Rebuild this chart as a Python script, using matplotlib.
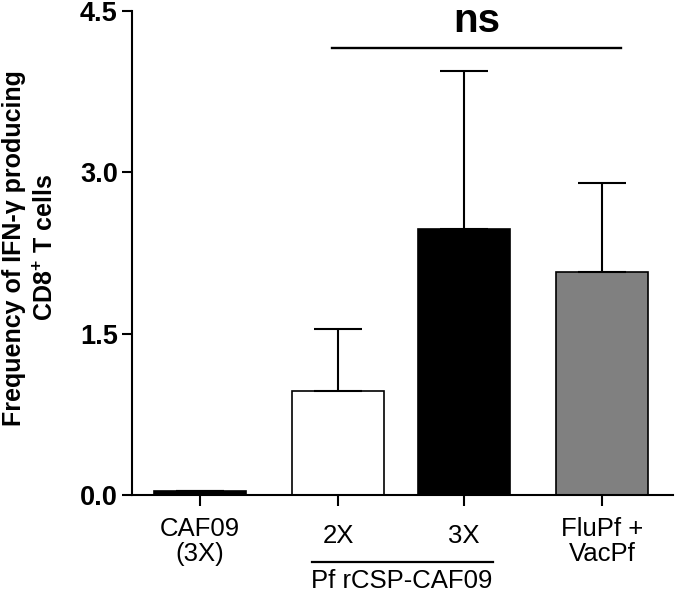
import matplotlib
matplotlib.use("Agg")
import matplotlib.pyplot as plt
import numpy as np

plt.rcParams['font.family'] = ['Liberation Sans', 'DejaVu Sans']
plt.rcParams['mathtext.fontset'] = 'custom'
plt.rcParams['mathtext.rm'] = 'Liberation Sans'
plt.rcParams['mathtext.bf'] = 'Liberation Sans:bold'

# valeurs
groupes = ["CAF09\n(3X)", "2X", "3X", "FluPf +\nVacPf"]
moyennes = [0.04, 0.967, 2.473, 2.073]
erreurs = [0.0, 0.58, 1.466, 0.828]
couleurs = ["black", "white", "black", "#808080"]
positions = np.array([0.0, 1.0, 1.913, 2.913])
yticks = [0.0, 1.5, 3.0, 4.5]

fig = plt.figure(figsize=(6.75, 5.95), dpi=100)
ax = fig.add_axes([132/675, 1 - 495/595, (673 - 132)/675, (495 - 11)/595])

ax.bar(positions, moyennes, width=0.67, color=couleurs, edgecolor="black", linewidth=1.2,
       yerr=[np.zeros(len(erreurs)), erreurs], capsize=17,
       error_kw=dict(elinewidth=1.5, capthick=1.5, ecolor="black"))

ax.set_xlim(-0.493, 3.428)
ax.set_ylim(0, 4.5)
ax.set_yticks(yticks)
ax.set_yticklabels(["%.1f" % v for v in yticks], fontsize=19.5, fontweight="bold")
ax.set_xticks(positions)
ax.set_xticklabels([])
ax.tick_params(axis="y", length=7.2, width=1.5, pad=3)
ax.tick_params(axis="x", length=8, width=1.5)
for s in ["top", "right"]:
    ax.spines[s].set_visible(False)
for s in ["left", "bottom"]:
    ax.spines[s].set_linewidth(1.5)

# etiquettes de l'axe x
decalages = [-16, -21, -21, -16]
for x, g, d in zip(positions, groupes, decalages):
    ax.annotate(g, xy=(x, 0), xycoords=("data", "axes fraction"), xytext=(0, d),
                textcoords="offset points", ha="center", va="top", fontsize=18.5,
                linespacing=1.05, annotation_clip=False)

ax.plot([0.81, 2.12], [-67/484, -67/484], transform=ax.get_xaxis_transform(),
        color="black", linewidth=1.6, clip_on=False)
ax.annotate("Pf rCSP-CAF09", xy=(1.464, 0), xycoords=("data", "axes fraction"),
            xytext=(0, -53), textcoords="offset points", ha="center", va="top",
            fontsize=18.5, annotation_clip=False)

# barre ns
ax.plot([0.957, 3.05], [4.156, 4.156], color="black", linewidth=1.7, clip_on=False)
ax.text(2.007, 4.305, "ns", ha="center", va="baseline", fontsize=29, fontweight="bold")

fig.text(30/675, 1 - 248/595, "Frequency of IFN-\u03b3 producing\nCD8$^{\\mathbf{+}}$ T cells",
         rotation=90, ha="center", va="center", fontsize=18, fontweight="bold",
         linespacing=1.45)

plt.savefig("out.png", dpi=100)
